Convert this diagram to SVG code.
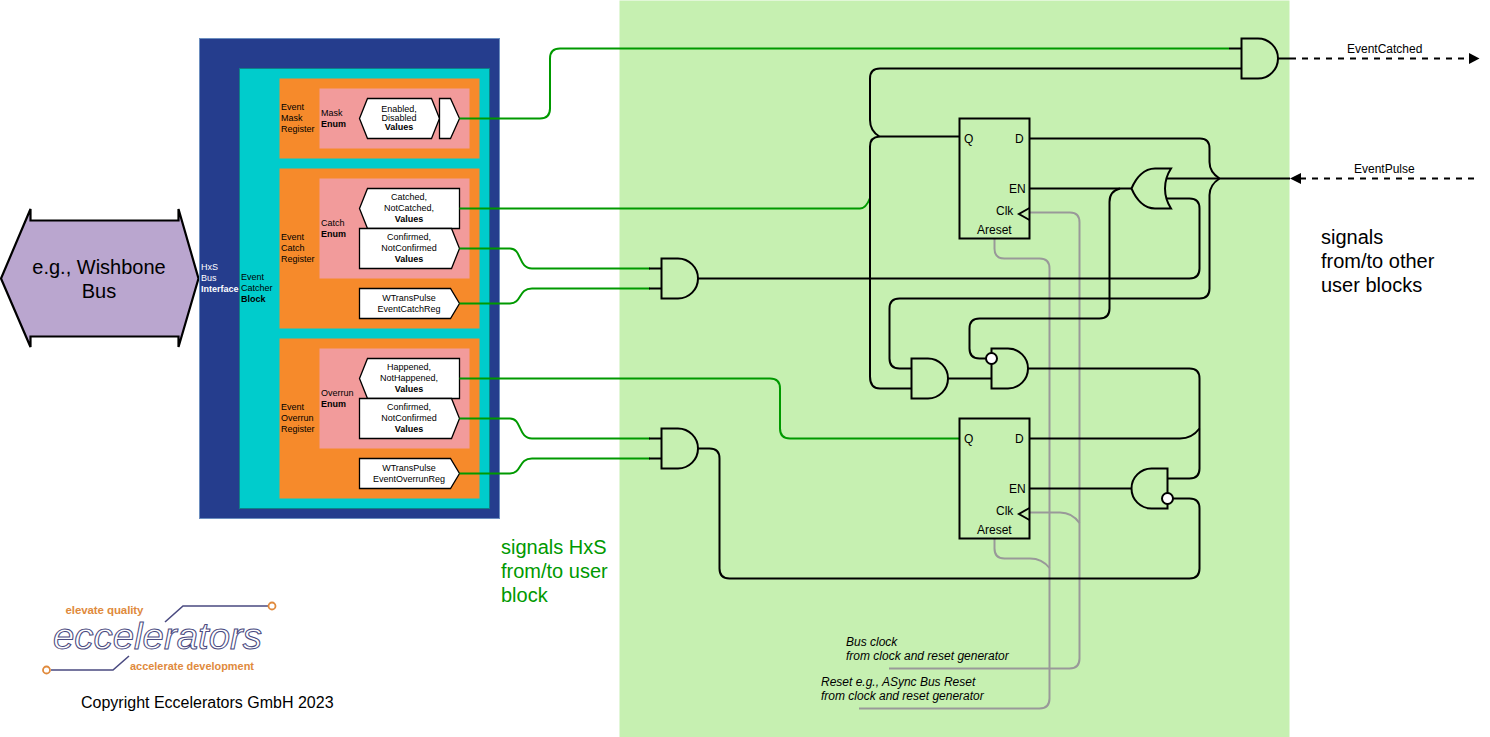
<svg xmlns="http://www.w3.org/2000/svg" width="1490" height="737" viewBox="0 0 1490 737">
<style>
text{font-family:"Liberation Sans",Arial,sans-serif;fill:#000}
.s{font-size:9px}
.m{font-size:12px}
.l{font-size:20px}
.c{text-anchor:middle}
.b{font-weight:bold}
.w{fill:#fff}
.gt{fill:#009900}
.lo{fill:#e08a3c;font-size:11.5px;font-weight:bold}
.box{stroke:#000;stroke-width:1.3;fill:#fff}
.g{fill:none;stroke:#009900;stroke-width:2}
.k{fill:none;stroke:#000;stroke-width:2}
.y{fill:none;stroke:#999;stroke-width:2}
.d{fill:none;stroke:#000;stroke-width:2;stroke-dasharray:6 6}
.gate{fill:#c6f0b1;stroke:#000;stroke-width:2}
.bub{fill:#fff;stroke:#000;stroke-width:2}
.ff{fill:none;stroke:#000;stroke-width:2}
</style>
<rect id="panel" x="619.500" y="0.500" width="670" height="736.500" fill="#c6f0b1"/>
<g id="bus"><path d="M1 278.500L30.500 209V220.500H178.500V209L198.500 278.500L178.500 347V336.500H30.500V347Z" fill="#baa6cf" stroke="#000" stroke-width="2.200"/>
<text x="99" y="274" class="l c">e.g., Wishbone</text><text x="99" y="298" class="l c">Bus</text></g>
<g id="hxs"><rect x="199.500" y="38.500" width="300" height="480" fill="#253d8d" stroke="#6c8ebf"/>
<text x="201" y="270" class="s w" style="fill:#fff">HxS</text><text x="201" y="281" class="s w" style="fill:#fff">Bus</text><text x="201" y="292" class="s b w" style="fill:#fff">Interface</text></g>
<g id="block"><rect x="239.500" y="68.500" width="250" height="440" fill="#00cccc" stroke="#0e8088"/>
<text x="241" y="280" class="s">Event</text><text x="241" y="291" class="s">Catcher</text><text x="241" y="302" class="s b">Block</text></g>
<g id="reg-mask"><rect x="279.500" y="78.500" width="200" height="80" fill="#f68a2b"/>
<text x="281" y="110" class="s">Event</text><text x="281" y="121" class="s">Mask</text><text x="281" y="132" class="s">Register</text></g>
<g id="enum-mask"><rect x="319.500" y="88.500" width="150" height="60" fill="#f29b9b"/>
<text x="321" y="116" class="s">Mask</text><text x="321" y="127" class="s b">Enum</text></g>
<g id="val-mask"><path class="box" d="M359.500 118.500L367.500 98.500H431.500L439.500 118.500L431.500 138.500H367.500Z"/>
<text x="399" y="112" class="s c">Enabled,</text><text x="399" y="121" class="s c">Disabled</text><text x="399" y="130" class="s c b">Values</text></g>
<g id="port-mask"><path class="box" d="M439.500 98.500H450.500L459.500 118.500L450.500 138.500H439.500Z"/></g>
<g id="reg-catch"><rect x="279.500" y="168.500" width="200" height="160" fill="#f68a2b"/>
<text x="281" y="240" class="s">Event</text><text x="281" y="251" class="s">Catch</text><text x="281" y="262" class="s">Register</text></g>
<g id="enum-catch"><rect x="319.500" y="178.500" width="150" height="100" fill="#f29b9b"/>
<text x="321" y="226" class="s">Catch</text><text x="321" y="237" class="s b">Enum</text></g>
<g id="val-catched"><path class="box" d="M359.500 208.500L367.500 188.500H459.500V228.500H367.500Z"/>
<text x="409" y="200" class="s c">Catched,</text><text x="409" y="211" class="s c">NotCatched,</text><text x="409" y="222" class="s c b">Values</text></g>
<g id="val-confirmed"><path class="box" d="M359.500 228.500H451.500L459.500 248.500L451.500 268.500H359.500Z"/>
<text x="409" y="240" class="s c">Confirmed,</text><text x="409" y="251" class="s c">NotConfirmed</text><text x="409" y="262" class="s c b">Values</text></g>
<g id="val-wtrans"><path class="box" d="M359.500 288.500H450.500L459.500 303.500L450.500 318.500H359.500Z"/>
<text x="409" y="301" class="s c">WTransPulse</text><text x="409" y="312" class="s c">EventCatchReg</text></g>
<g id="reg-overrun"><rect x="279.500" y="338.500" width="200" height="160" fill="#f68a2b"/>
<text x="281" y="410" class="s">Event</text><text x="281" y="421" class="s">Overrun</text><text x="281" y="432" class="s">Register</text></g>
<g id="enum-overrun"><rect x="319.500" y="348.500" width="150" height="100" fill="#f29b9b"/>
<text x="321" y="396" class="s">Overrun</text><text x="321" y="407" class="s b">Enum</text></g>
<g id="val-happened"><path class="box" d="M359.500 378.500L367.500 358.500H459.500V398.500H367.500Z"/>
<text x="409" y="370" class="s c">Happened,</text><text x="409" y="381" class="s c">NotHappened,</text><text x="409" y="392" class="s c b">Values</text></g>
<g id="val-confirmed2"><path class="box" d="M359.500 398.500H451.500L459.500 418.500L451.500 438.500H359.500Z"/>
<text x="409" y="410" class="s c">Confirmed,</text><text x="409" y="421" class="s c">NotConfirmed</text><text x="409" y="432" class="s c b">Values</text></g>
<g id="val-wtrans2"><path class="box" d="M359.500 458.500H450.500L459.500 473.500L450.500 488.500H359.500Z"/>
<text x="409" y="471" class="s c">WTransPulse</text><text x="409" y="482" class="s c">EventOverrunReg</text></g>
<g id="connectors">
<path class="y" d="M1030 212.500H1070Q1079.500 212.500 1079.500 222.500V658.500Q1079.500 668.500 1069.500 668.500H889"/>
<path class="y" d="M994.500 238.500V248.500Q994.500 258.500 1004.500 258.500H1039.500Q1049.500 258.500 1049.500 268.500V698.500Q1049.500 708.500 1039.500 708.500H859"/>
<path class="y" d="M1030 512.500H1060Q1072 512.500 1079.500 523"/>
<path class="y" d="M994.500 538.500V548.500Q994.500 558.500 1004.500 558.500H1030Q1042 558.500 1049.500 568"/>
<path class="g" d="M459.500 118.500H540Q550 118.500 550 108.500V58.500Q550 48.500 560 48.500H1229"/>
<path class="k" d="M1229 48.500H1241"/>
<path class="g" d="M459.500 208.500H860Q866 208.500 870 198"/>
<path class="g" d="M459.500 248.500H510C522 248.500 518 268.500 532 268.500H650"/>
<path class="g" d="M459.500 303.500H510C522 303.500 518 288.500 532 288.500H650"/>
<path class="g" d="M459.500 378.500H770Q780 378.500 780 388.500V428.500Q780 438.500 790 438.500H959.500"/>
<path class="g" d="M459.500 418.500H510C522 418.500 518 438.500 532 438.500H650"/>
<path class="g" d="M459.500 473.500H510C522 473.500 518 458.500 532 458.500H650"/>
<path class="k" d="M649 268.500H661M649 288.500H661M649 438.500H661M649 458.500H661"/>
<path class="k" d="M1241 68.500H880Q870 68.500 870 78.500V120Q870 131 879.500 136.500H959.500"/>
<path class="k" d="M879.500 136.500Q870 137 870 146.500V376.500Q870 388.500 880 388.500H911"/>
<path class="k" d="M1029.500 138.500H1200Q1209.500 138.500 1209.500 148.500V162Q1209.500 172 1219.500 178.500"/>
<path class="k" d="M1166 178.500H1290"/>
<path class="k" d="M1219.500 178.500Q1209.500 185 1209.500 195V288.500Q1209.500 298.500 1199.500 298.500H899.500Q889.500 298.500 889.500 308.500V358.500Q889.500 368.500 899.500 368.500H911"/>
<path class="k" d="M1029.500 188.500H1131.500"/>
<path class="k" d="M1120 188.500Q1109.500 191 1109.500 202V308.500Q1109.500 318.500 1099.500 318.500H979.500Q969.500 318.500 969.500 328.500V348.500Q969.500 358.500 979.500 358.500H986"/>
<path class="k" d="M1166 198.500H1189.500Q1199.500 198.500 1199.500 208.500V268.500Q1199.500 278.500 1189.500 278.500H698"/>
<path class="k" d="M948 378.500H991"/>
<path class="k" d="M1027.500 368.500H1189.500Q1199.500 368.500 1199.500 378.500V468.500Q1199.500 478.500 1189.500 478.500H1168"/>
<path class="k" d="M1029.500 438.500H1180Q1192 438.500 1199.500 428.500"/>
<path class="k" d="M1029.500 488.500H1131.500"/>
<path class="k" d="M1173 498.500H1189.500Q1199.500 498.500 1199.500 508.500V568.500Q1199.500 578.500 1189.500 578.500H729.500Q719.500 578.500 719.500 568.500V458.500Q719.500 448.500 709.500 448.500H698"/>
<path class="k" d="M1278 58.500H1290"/>
<path class="d" d="M1290 58.500H1470"/>
<path class="d" d="M1474 178.500H1300"/>
<path d="M1469 53L1479.500 58.500L1469 64Z"/>
<path d="M1290 178.500L1301 173V184Z"/>
</g>
<g id="and-out"><path class="gate" d="M1241.500 38.500H1258A20 20 0 0 1 1258 78.500H1241.500Z"/></g>
<g id="and-catch"><path class="gate" d="M661.500 258.500H678A20 20 0 0 1 678 298.500H661.500Z"/></g>
<g id="and-overrun"><path class="gate" d="M661.500 428.500H678A20 20 0 0 1 678 468.500H661.500Z"/></g>
<g id="and-a"><path class="gate" d="M911.500 358.500H928A20 20 0 0 1 928 398.500H911.500Z"/></g>
<g id="and-b"><path class="gate" d="M991.500 348.500H1008A20 20 0 0 1 1008 388.500H991.500Z"/><circle class="bub" cx="991.500" cy="358.500" r="5.500"/></g>
<g id="and-c"><path class="gate" d="M1167.500 468.500H1151.500A20 20 0 0 0 1151.500 508.500H1167.500Z"/><circle class="bub" cx="1167.500" cy="498.500" r="5.500"/></g>
<g id="or"><path class="gate" d="M1171 168.500H1155C1144 168.500 1136 178 1131.500 188.500C1136 199 1144 208.500 1155 208.500H1171C1163 196 1163 181 1171 168.500Z"/></g>
<g id="ff1"><rect class="ff" x="959.500" y="118.500" width="70" height="120"/>
<text x="964" y="143" class="m">Q</text><text x="1015" y="143" class="m">D</text><text x="1009" y="193" class="m">EN</text><text x="996" y="215" class="m">Clk</text><text x="977" y="234" class="m">Areset</text>
<path class="ff" d="M1029.500 208L1019 214L1029.500 220"/></g>
<g id="ff2"><rect class="ff" x="959.500" y="418.500" width="70" height="120"/>
<text x="964" y="443" class="m">Q</text><text x="1015" y="443" class="m">D</text><text x="1009" y="493" class="m">EN</text><text x="996" y="515" class="m">Clk</text><text x="977" y="534" class="m">Areset</text>
<path class="ff" d="M1029.500 508L1019 514L1029.500 520"/></g>
<text x="1347" y="53" class="m">EventCatched</text>
<text x="1354" y="173" class="m">EventPulse</text>
<text x="1321" y="244" class="l">signals</text><text x="1321" y="268" class="l">from/to other</text><text x="1321" y="292" class="l">user blocks</text>
<text x="501" y="554" class="l gt" style="fill:#009900">signals HxS</text><text x="501" y="578" class="l gt" style="fill:#009900">from/to user</text><text x="501" y="602" class="l gt" style="fill:#009900">block</text>
<g font-style="italic"><text x="846" y="646" class="m">Bus clock</text><text x="846" y="660" class="m">from clock and reset generator</text><text x="821" y="686" class="m">Reset e.g., ASync Bus Reset</text><text x="821" y="700" class="m">from clock and reset generator</text></g>
<g id="logo">
<text x="65.500" y="614" class="lo" style="fill:#e08a3c" textLength="78">elevate quality</text>
<text x="130" y="670" class="lo" style="fill:#e08a3c" textLength="124" lengthAdjust="spacingAndGlyphs">accelerate development</text>
<text x="53" y="649" font-size="37" font-style="italic" textLength="209" lengthAdjust="spacingAndGlyphs" style="fill:#fff;stroke:#4a4a80;stroke-width:1">eccelerators</text>
<path d="M165 622L183 606H268M129 656L113 670H51" fill="none" stroke="#4a4a80" stroke-width="1.600"/>
<circle cx="272" cy="606" r="3.500" fill="#fff" stroke="#e08a3c" stroke-width="1.800"/><circle cx="46.500" cy="670" r="3.500" fill="#fff" stroke="#e08a3c" stroke-width="1.800"/>
</g>
<text x="81" y="708" font-size="16">Copyright Eccelerators GmbH 2023</text>
</svg>
